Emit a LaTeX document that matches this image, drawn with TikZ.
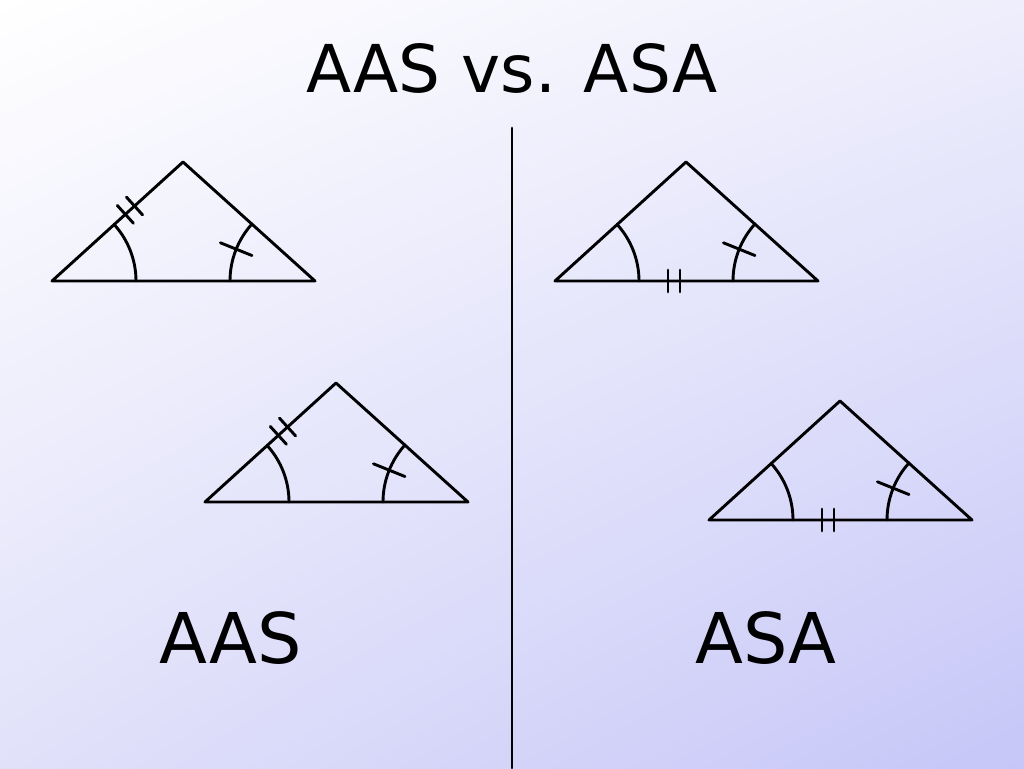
\documentclass[tikz,border=0pt]{standalone}
\usepackage{fontspec}
\setmainfont{DejaVu Sans}
\usetikzlibrary{calc,shadings}
\definecolor{bgA}{RGB}{238,238,252}
\definecolor{bgB}{RGB}{225,225,250}
\definecolor{bgC}{RGB}{198,198,248}
\tikzset{ln/.style={line width=2.9pt,line cap=round,line join=round,black}}
\newcommand{\mytri}[2]{%
 \begin{scope}[shift={(#1,#2)}]
  \coordinate (L) at (0,0); \coordinate (A) at (131,119); \coordinate (R) at (263,0);
  \draw[ln] (L)--(A)--(R)--cycle;
  \draw[ln] (84,0) arc (0:42.3:84);
  \draw[ln] (178,0) arc (180:137.8:85);
  \draw[ln] ($(R)+(158:68)$)--($(R)+(158:102)$);
 \end{scope}}
\newcommand{\sideticks}[2]{%
 \begin{scope}[shift={(#1,#2)}]
  \foreach \t in {0.56,0.63}{\draw[ln] ($(0,0)!\t!(131,119)+(-0.672*12,0.74*12)$)--($(0,0)!\t!(131,119)-(-0.672*12,0.74*12)$);}
 \end{scope}}
\newcommand{\baseticks}[2]{%
 \begin{scope}[shift={(#1,#2)}]
  \foreach \t in {113,125}{\draw[ln] (\t,-11)--(\t,11);}
 \end{scope}}
\begin{document}
\begin{tikzpicture}[x=1pt,y=1pt]
\useasboundingbox (0,0) rectangle (1024,768);
\shade[upper left=white,upper right=bgA,lower left=bgB,lower right=bgC] (0,0) rectangle (1024,768);
\node (title) at (512,700) {\fontsize{66}{70}\selectfont AAS vs. ASA};
\draw[ln] (512,640)--(512,0);
\mytri{52}{487}\sideticks{52}{487}
\mytri{205}{266}\sideticks{205}{266}
\mytri{555}{487}\baseticks{555}{487}
\mytri{709}{248}\baseticks{709}{248}
\node (aas) at (231,130) {\fontsize{70}{74}\selectfont AAS};
\node (asa) at (766,130) {\fontsize{70}{74}\selectfont ASA};
\end{tikzpicture}
\end{document}
